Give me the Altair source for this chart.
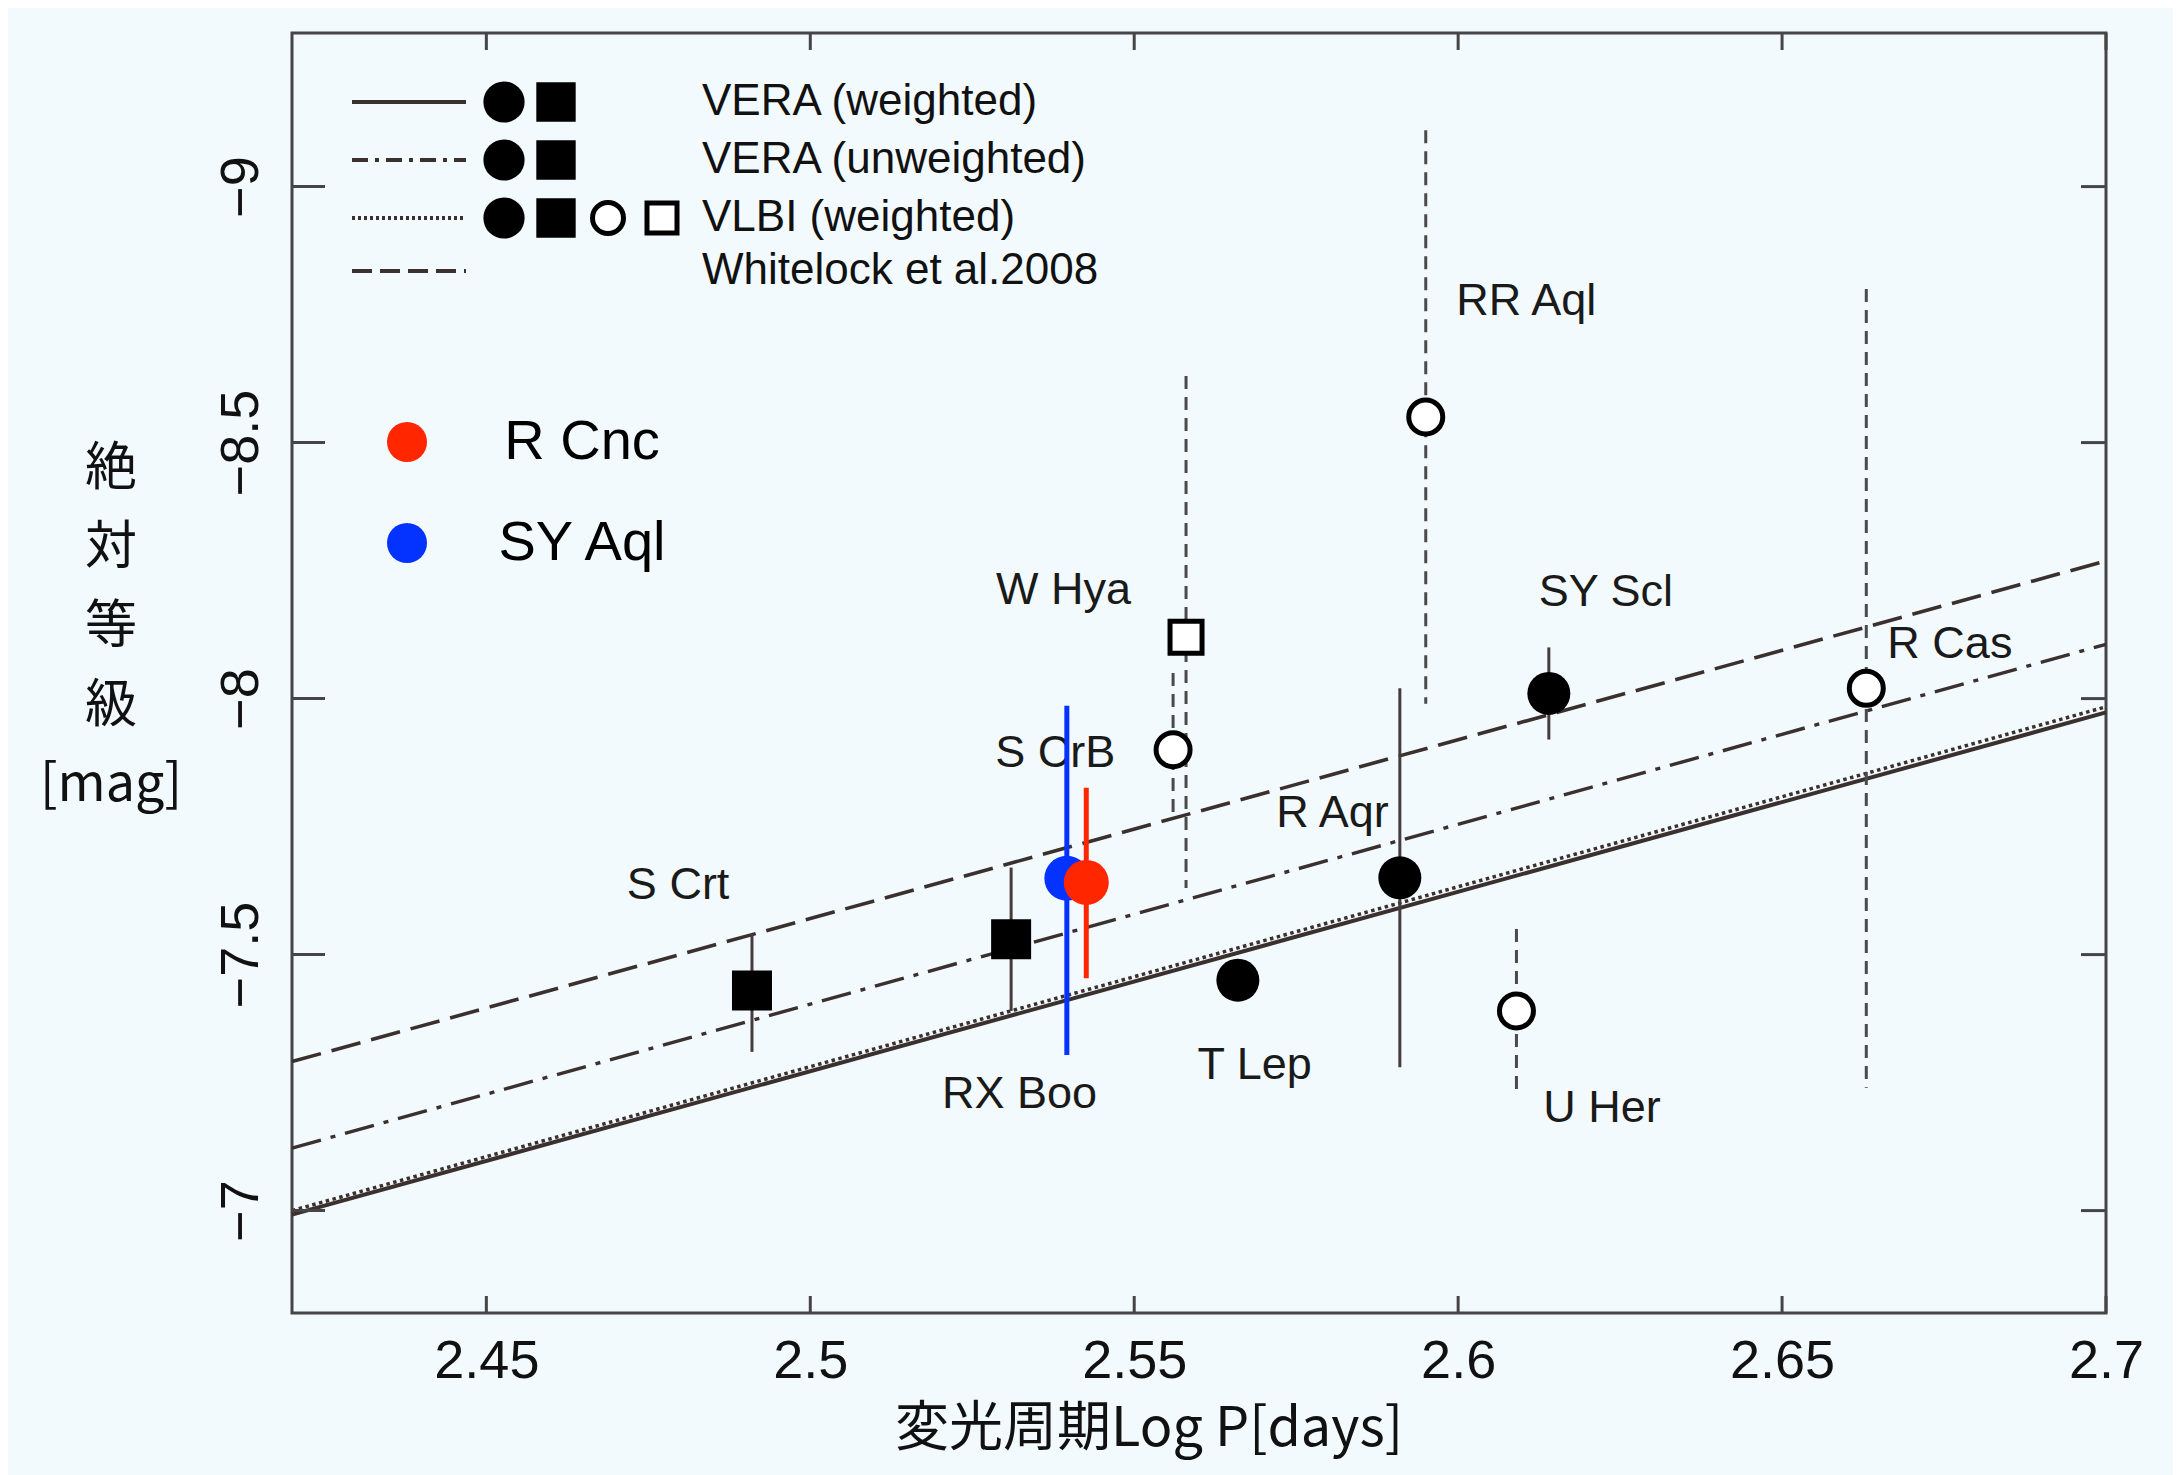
import altair as alt
import pandas as pd

# ---------------- data ----------------
star_names = ["S Crt", "RX Boo", "T Lep", "R Aqr", "SY Scl",
              "S CrB", "W Hya", "RR Aql", "U Her", "R Cas"]
star_logp = [2.491, 2.531, 2.566, 2.591, 2.614, 2.556, 2.558, 2.595, 2.609, 2.663]
star_mag = [-7.43, -7.53, -7.45, -7.65, -8.01, -7.90, -8.12, -8.55, -7.39, -8.02]
star_err_top = [-7.54, -7.67, -7.47, -8.02, -8.10, -8.05, -8.63, -9.11, -7.55, -8.80]
star_err_bottom = [-7.31, -7.39, -7.43, -7.28, -7.92, -7.77, -7.63, -7.99, -7.23, -7.24]
star_marker = ["filled square", "filled square", "filled circle", "filled circle", "filled circle",
               "open circle", "open square", "open circle", "open circle", "open circle"]
star_errstyle = ["solid", "solid", "solid", "solid", "solid",
                 "dashed", "dashed", "dashed", "dashed", "dashed"]
label_logp = [2.4796, 2.5323, 2.5686, 2.5806, 2.6228, 2.5378, 2.5391, 2.6105, 2.6222, 2.6759]
label_mag = [-7.636, -7.228, -7.285, -7.777, -8.209, -7.894, -8.212, -8.777, -7.201, -8.106]

new_names = ["SY Aql", "R Cnc"]
new_logp = [2.5396, 2.5426]
new_mag = [-7.649, -7.641]
new_err_top = [-7.986, -7.826]
new_err_bottom = [-7.304, -7.454]
new_colors = ["#0433FF", "#FF2600"]

fit_names = ["VERA (weighted)", "VERA (unweighted)", "VLBI (weighted)", "Whitelock et al.2008"]
fit_logp = [2.42, 2.70]
fit_mag_start = [-6.992, -7.122, -7.000, -7.291]
fit_mag_end = [-7.973, -8.106, -7.984, -8.269]

x_ticks = [2.45, 2.5, 2.55, 2.6, 2.65, 2.7]
y_ticks = [-9, -8.5, -8, -7.5, -7]

x_title = "変光周期Log P[days]"
y_title_lines = ["絶", "対", "等", "級", "[mag]"]

# ---------------- styling ----------------
W, H = 1814, 1280
BG = "#F3FAFE"
LINE = "#3a302e"
FRAME = "#454545"
SANS = "Liberation Sans"
CJK = "Noto Sans CJK JP"

xs = alt.Scale(domain=[2.42, 2.70], nice=False, zero=False)
ys = alt.Scale(domain=[-9.3, -6.8], nice=False, zero=False, reverse=True)

x_axis = alt.Axis(values=x_ticks, format=".2~f", labelFont=SANS, labelFontSize=54,
                  labelColor="#111111", labelPadding=21, ticks=False, tickSize=0,
                  domain=False, grid=False, labelFlush=False, labelOverlap=False)
y_axis = alt.Axis(values=y_ticks, format=".1~f", labelFont=SANS, labelFontSize=54,
                  labelColor="#111111", labelPadding=24, labelAngle=270,
                  labelAlign="center", labelBaseline="bottom", ticks=False, tickSize=0,
                  domain=False, grid=False, labelFlush=False, labelOverlap=False)


def X(field):
    return alt.X(field, scale=xs, axis=x_axis, title=None)


def Y(field):
    return alt.Y(field, scale=ys, axis=y_axis, title=None)


stars_df = pd.DataFrame({
    "name": star_names, "logp": star_logp, "mag": star_mag,
    "top": star_err_top, "bottom": star_err_bottom,
    "marker": star_marker, "errstyle": star_errstyle,
    "lx": label_logp, "ly": label_mag,
})
new_df = pd.DataFrame({
    "name": new_names, "logp": new_logp, "mag": new_mag,
    "top": new_err_top, "bottom": new_err_bottom, "color": new_colors,
})
fit_rows = []
for n, a, b in zip(fit_names, fit_mag_start, fit_mag_end):
    fit_rows.append({"fit": n, "logp": fit_logp[0], "mag": a})
    fit_rows.append({"fit": n, "logp": fit_logp[1], "mag": b})
fit_df = pd.DataFrame(fit_rows)
xt_df = pd.DataFrame({"v": x_ticks})
yt_df = pd.DataFrame({"v": y_ticks})
one = pd.DataFrame({"k": [0]})

layers = []

# ---- regression lines ----
fit_styles = [
    ("Whitelock et al.2008", dict(strokeWidth=3.6, strokeDash=[30, 11])),
    ("VERA (unweighted)", dict(strokeWidth=3.4, strokeDash=[30, 10, 5, 10])),
    ("VERA (weighted)", dict(strokeWidth=4)),
    ("VLBI (weighted)", dict(strokeWidth=3.5, strokeDash=[3.5, 3.5])),
]
for name, st in fit_styles:
    layers.append(
        alt.Chart(fit_df).transform_filter(alt.datum.fit == name)
        .mark_line(color=LINE, **st)
        .encode(x=X("logp:Q"), y=Y("mag:Q"))
    )

# ---- frame ticks (inward) ----
TICK = dict(color=FRAME, strokeWidth=3)
layers.append(alt.Chart(xt_df).mark_rule(**TICK).encode(
    x=X("v:Q"), y=alt.value(H), y2=alt.value(H - 17)))
layers.append(alt.Chart(xt_df).mark_rule(**TICK).encode(
    x=X("v:Q"), y=alt.value(0), y2=alt.value(17)))
layers.append(alt.Chart(yt_df).mark_rule(**TICK).encode(
    y=Y("v:Q"), x=alt.value(0), x2=alt.value(33)))
layers.append(alt.Chart(yt_df).mark_rule(**TICK).encode(
    y=Y("v:Q"), x=alt.value(W), x2=alt.value(W - 25)))

# ---- error bars ----
layers.append(
    alt.Chart(stars_df).transform_filter(alt.datum.errstyle == "solid")
    .mark_rule(color="#463c3c", strokeWidth=3)
    .encode(x=X("logp:Q"), y=Y("top:Q"), y2="bottom:Q")
)
layers.append(
    alt.Chart(stars_df).transform_filter(alt.datum.errstyle == "dashed")
    .mark_rule(color="#4a4a4a", strokeWidth=3, strokeDash=[13, 8])
    .encode(x=X("logp:Q"), y=Y("top:Q"), y2="bottom:Q")
)

# ---- markers ----
marker_styles = {
    "filled circle": dict(shape="circle", size=1849, filled=True, color="#000000"),
    "filled square": dict(shape="square", size=1600, filled=True, color="#000000"),
    "open circle": dict(shape="circle", size=1156, filled=True, color="#ffffff",
                        stroke="#000000", strokeWidth=5),
    "open square": dict(shape="square", size=1024, filled=True, color="#ffffff",
                        stroke="#000000", strokeWidth=5),
}
for kind, st in marker_styles.items():
    layers.append(
        alt.Chart(stars_df).transform_filter(alt.datum.marker == kind)
        .mark_point(opacity=1, **st)
        .encode(x=X("logp:Q"), y=Y("mag:Q"))
    )

# ---- star labels ----
layers.append(
    alt.Chart(stars_df).mark_text(font=SANS, fontSize=45, color="#1a1a1a",
                                  align="center", baseline="middle")
    .encode(x=X("lx:Q"), y=Y("ly:Q"), text="name:N")
)

# ---- new stars (R Cnc, SY Aql) ----
layers.append(
    alt.Chart(new_df).mark_rule(strokeWidth=5)
    .encode(x=X("logp:Q"), y=Y("top:Q"), y2="bottom:Q",
            color=alt.Color("color:N", scale=None))
)
layers.append(
    alt.Chart(new_df).mark_point(shape="circle", size=2025, filled=True, opacity=1)
    .encode(x=X("logp:Q"), y=Y("mag:Q"),
            color=alt.Color("color:N", scale=None))
)


def glyph(px, py, shape, size, filled_black=True, color="#000000"):
    if filled_black:
        m = alt.Chart(one).mark_point(shape=shape, size=size, filled=True, color=color, opacity=1)
    else:
        m = alt.Chart(one).mark_point(shape=shape, size=size, filled=True, color="#ffffff",
                                      stroke="#000000", strokeWidth=5, opacity=1)
    return m.encode(x=alt.value(px), y=alt.value(py))


def label(px, py, txt, size, font=SANS, align="left", color="#111111"):
    return alt.Chart(one).mark_text(text=txt, font=font, fontSize=size, align=align,
                                    baseline="middle", color=color).encode(
        x=alt.value(px), y=alt.value(py))


# ---- legend 1 (fit lines) ----
rows_y = [69, 127, 185, 238]
leg_dash = [None, [16, 7, 4, 7], [3, 3], [20, 8]]
for ry, dash, name in zip(rows_y, leg_dash, fit_names):
    kw = dict(color=LINE, strokeWidth=4)
    if dash is not None:
        kw["strokeDash"] = dash
    layers.append(alt.Chart(one).mark_rule(**kw).encode(
        x=alt.value(60), x2=alt.value(174), y=alt.value(ry)))
    layers.append(label(410, ry, name, 44))
for ry in rows_y[:3]:
    layers.append(glyph(212, ry, "circle", 1700))
    layers.append(glyph(264, ry, "square", 1550))
layers.append(glyph(316, rows_y[2], "circle", 961, filled_black=False))
layers.append(glyph(370, rows_y[2], "square", 900, filled_black=False))

# ---- legend 2 (R Cnc / SY Aql) ----
for (nm, col), ry in zip([("R Cnc", "#FF2600"), ("SY Aql", "#0433FF")], [409, 510]):
    layers.append(glyph(115, ry, "circle", 1600, color=col))
    layers.append(label(290, ry, nm, 56, align="center", color="#000000"))

# ---- axis titles ----
layers.append(
    alt.Chart(one).mark_text(text="\n".join(y_title_lines), lineBreak="\n", lineHeight=79,
                             font=CJK, fontSize=52, align="center", baseline="middle",
                             color="#111111")
    .encode(x=alt.value(-181), y=alt.value(436))
)
layers.append(label(857, 1397, x_title, 54, font=CJK, align="center"))

chart = (
    alt.layer(*layers)
    .properties(width=W, height=H,
                autosize=alt.AutoSizeParams(type="none"),
                padding={"left": 284, "top": 25, "right": 67, "bottom": 162})
    .configure(background=BG)
    .configure_view(stroke=FRAME, strokeWidth=3)
)

chart.save("out.html", embed_options={"renderer": "svg", "actions": False})
